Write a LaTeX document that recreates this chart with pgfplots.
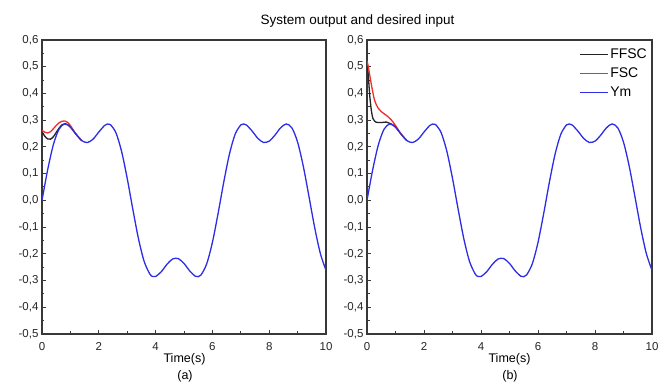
\documentclass[border=0pt]{standalone}
\usepackage{fontspec}
\setmainfont{Liberation Sans}
\usepackage{pgfplots}
\pgfplotsset{compat=1.18}
\usepackage{pgfplotstable}

\pgfplotstableread{
t y
0 0
0.2 0.1147
0.4 0.2083
0.6 0.2665
0.8 0.2859
1.0 0.2742
1.2 0.2473
1.4 0.2236
1.6 0.2163
1.8 0.2293
2.0 0.2556
2.2 0.2799
2.3 0.2856
2.4 0.2840
2.6 0.2537
2.8 0.1842
3.0 0.0824
3.2 -0.0345
3.4 -0.1450
3.6 -0.2294
3.8 -0.2761
3.9 -0.2848
4.0 -0.2850
4.2 -0.2670
4.4 -0.2393
4.6 -0.2193
4.8 -0.2180
5.0 -0.2361
5.2 -0.2638
5.4 -0.2840
5.5 -0.2856
5.6 -0.2791
5.8 -0.2373
6.0 -0.1572
6.2 -0.0490
6.4 0.0684
6.6 0.1731
6.8 0.2472
7.0 0.2823
7.1 0.2859
7.2 0.2818
7.4 0.2591
7.6 0.2320
7.8 0.2167
8.0 0.2216
8.2 0.2438
8.4 0.2712
8.6 0.2859
8.8 0.2710
9.0 0.2177
9.2 0.1278
9.4 0.0147
9.6 -0.1012
9.8 -0.1984
10 -0.2615
}\ymdata

% panel (a) transients (afterwards identical to Ym, hidden under it)
\pgfplotstableread{
t y
0 0.262
0.1 0.255
0.2 0.252
0.3 0.257
0.4 0.268
0.5 0.280
0.6 0.290
0.7 0.296
0.8 0.297
0.9 0.292
1.0 0.280
1.2 0.2473
1.4 0.2236
}\fsca
\pgfplotstableread{
t y
0 0.256
0.1 0.240
0.2 0.230
0.3 0.229
0.4 0.238
0.5 0.254
0.6 0.270
0.7 0.282
0.8 0.287
0.9 0.284
1.0 0.2742
1.2 0.2473
1.4 0.2236
}\ffsca
% panel (b) transients
\pgfplotstableread{
t y
0 0.522
0.05 0.497
0.1 0.466
0.18 0.418
0.27 0.373
0.39 0.345
0.5 0.332
0.68 0.318
0.86 0.300
1.0 0.280
1.2 0.2473
1.4 0.2236
}\fscb
\pgfplotstableread{
t y
0 0.522
0.04 0.476
0.1 0.387
0.16 0.331
0.21 0.306
0.27 0.296
0.33 0.292
0.5 0.291
0.68 0.293
0.8 0.2880
0.9 0.2830
1.0 0.2742
1.2 0.2473
1.4 0.2236
}\ffscb

\definecolor{cred}{RGB}{240,45,45}
\definecolor{cblue}{RGB}{45,45,230}
\definecolor{cblack}{RGB}{35,35,35}

\pgfplotsset{
  panel/.style={
    scale only axis, width=284bp, height=294bp,
    xmin=0, xmax=10, ymin=-0.5, ymax=0.6,
    xtick={0,2,4,6,8,10},
    ytick={-0.5,-0.4,-0.3,-0.2,-0.1,0,0.1,0.2,0.3,0.4,0.5,0.6},
    minor x tick num=1, minor y tick num=1,
    tick align=inside, xtick pos=bottom, ytick pos=left,
    major tick length=4bp, minor tick length=2.5bp,
    axis line style={line width=1.3bp, draw=black!78},
    tick style={line width=1bp, draw=black!78},
    minor tick style={line width=1bp, draw=black!78},
    tick label style={font=\fontsize{11.5bp}{13bp}\selectfont, text=black!85},
    /pgf/number format/assume math mode=true,
    yticklabel style={/pgf/number format/.cd, fixed, fixed zerofill, precision=1, use comma},
    xticklabel style={yshift=-5bp},
    every axis plot/.append style={line width=1.3bp, smooth},
    legend image code/.code={\draw[#1, line width=1.3bp] (0bp,0bp) -- (28bp,0bp);},
  }
}

\begin{document}
\begin{tikzpicture}
\useasboundingbox (0bp,0bp) rectangle (658bp,385bp);
\fill[white] (0bp,0bp) rectangle (658bp,385bp);

\begin{axis}[panel, at={(42bp,51bp)}, anchor=south west]
  \addplot[cblack] table[x=t,y=y] {\ffsca};
  \addplot[cred] table[x=t,y=y] {\fsca};
  \addplot[cblue] table[x=t,y=y] {\ymdata};
\end{axis}

\begin{axis}[panel, width=285bp, at={(367bp,51bp)}, anchor=south west,
  legend style={at={(1,1)}, anchor=north east, xshift=-2bp, yshift=-6bp, draw=none, fill=none,
    font=\fontsize{14bp}{16bp}\selectfont, row sep=3.5bp, inner sep=1bp},
  legend cell align=left]
  \addplot[cblack] table[x=t,y=y] {\ffscb};
  \addplot[cred] table[x=t,y=y] {\fscb};
  \addplot[cblue] table[x=t,y=y] {\ymdata};
  \legend{FFSC, FSC, Ym}
\end{axis}

\node[font=\fontsize{13.5bp}{15bp}\selectfont] at (357.5bp,363.5bp) {System output and desired input};
\node[font=\fontsize{12.5bp}{14bp}\selectfont] at (184.5bp,26bp) {Time(s)};
\node[font=\fontsize{12.5bp}{14bp}\selectfont] at (185bp,8.5bp) {(a)};
\node[font=\fontsize{12.5bp}{14bp}\selectfont] at (509.5bp,26bp) {Time(s)};
\node[font=\fontsize{12.5bp}{14bp}\selectfont] at (510bp,8.5bp) {(b)};
\end{tikzpicture}
\end{document}
